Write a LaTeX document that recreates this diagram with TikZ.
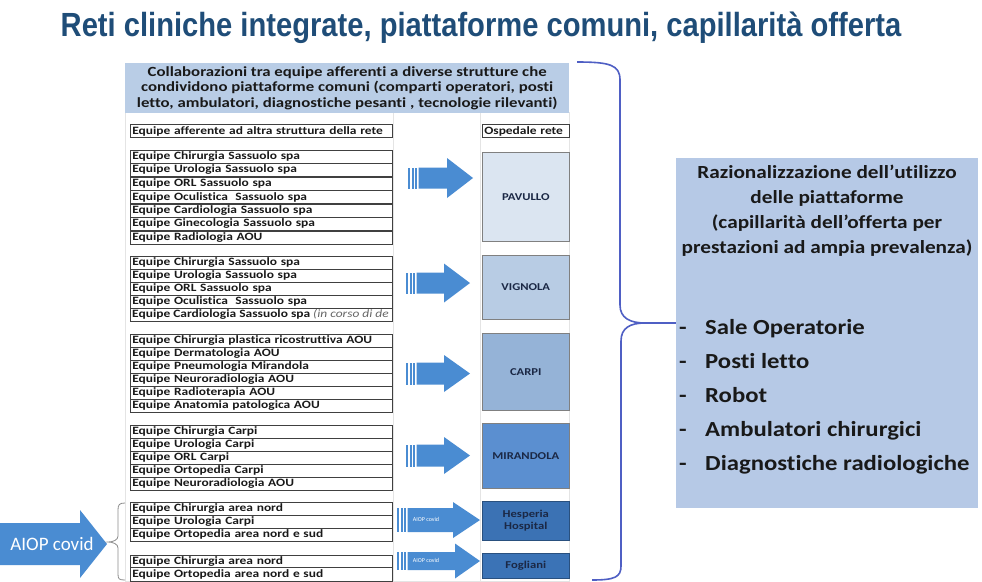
\documentclass[tikz,border=0pt]{standalone}
\usepackage{fontspec}
\setmainfont[Ligatures=NoCommon]{Carlito}
\newfontfamily\titlefont[FakeStretch=0.87]{Liberation Sans}
\newfontfamily\tabfont[FakeStretch=1.2,Ligatures=NoCommon]{Carlito}
\newfontfamily\rfont[FakeStretch=1.15,Ligatures=NoCommon]{Carlito}
\definecolor{titleblue}{HTML}{1F4D78}
\definecolor{hdrblue}{HTML}{B9CDE6}
\definecolor{boxblue}{HTML}{B6C9E6}
\definecolor{pavc}{HTML}{DBE5F1}
\definecolor{vigc}{HTML}{B8CCE4}
\definecolor{carc}{HTML}{95B3D7}
\definecolor{mirc}{HTML}{5B8FD0}
\definecolor{hesc}{HTML}{3B72B4}
\definecolor{fogc}{HTML}{3B73B6}
\definecolor{arrowblue}{HTML}{4A8CD2}
\definecolor{bracec}{HTML}{4F5FC4}
\definecolor{navy}{HTML}{1B2845}
\definecolor{gridc}{HTML}{E4E4E4}
\newcommand\blockarr[6]{%
  \fill[arrowblue] (#1,{#2-#5}) rectangle ({#1+2},{#2+#5});
  \fill[arrowblue] ({#1+3.5},{#2-#5}) rectangle ({#1+5.5},{#2+#5});
  \fill[arrowblue] ({#1+7},{#2-#5}) rectangle ({#1+9},{#2+#5});
  \fill[arrowblue] ({#1+10.5},{#2-#5}) -- (#3,{#2-#5}) -- (#3,{#2-#6}) -- (#4,#2)
     -- (#3,{#2+#6}) -- (#3,{#2+#5}) -- ({#1+10.5},{#2+#5}) -- cycle;}
\tikzset{
  rowbox/.style={draw=black!75, line width=0.6pt, fill=white, anchor=north west,
    minimum width=262pt, minimum height=13.4pt, inner xsep=2pt, inner ysep=0pt,
    text width=258pt, align=left, text=black!90,
    font=\tabfont\bfseries\fontsize{11.2}{12}\selectfont},
  rowtext/.style={anchor=west, inner xsep=2pt, inner ysep=0pt, text=black!90,
    font=\tabfont\bfseries\fontsize{11.2}{12}\selectfont},
  hosp/.style={draw=black!50, line width=0.6pt, anchor=north west, minimum width=87pt,
    inner sep=0pt, align=center, text=navy, font=\tabfont\bfseries\fontsize{10.5}{12.5}\selectfont},
  listitem/.style={anchor=base west, inner sep=0pt, text=black!90, font=\rfont\bfseries\fontsize{21.5}{24}\selectfont},
}
\begin{document}
\begin{tikzpicture}[x=1pt,y=-1pt]
\useasboundingbox (0,0) rectangle (982,581);
\fill[white] (0,0) rectangle (982,581);
% title
\node[font=\titlefont\bfseries\fontsize{33.5}{38}\selectfont, text=titleblue] (title) at (481,28)
  {Reti cliniche integrate, piattaforme comuni, capillarità offerta};
% faint grid of the table
\draw[gridc, line width=0.6pt] (125,112) rectangle (569,581);
\draw[gridc, line width=0.6pt] (393,112) -- (393,581);
\draw[gridc, line width=0.6pt] (480,112) -- (480,581);
% header box
\node[fill=hdrblue, anchor=north west, minimum width=444pt, minimum height=50pt, inner sep=0pt] (hdr) at (125,63) {};
\node[align=center, text=black!90, font=\tabfont\bfseries\fontsize{14}{15.6}\selectfont] (hdrtext) at (hdr.center)
  {Collaborazioni tra equipe afferenti a diverse strutture che\\
   condividono piattaforme comuni (comparti operatori, posti\\
   letto, ambulatori, diagnostiche pesanti , tecnologie rilevanti)};
% column headers
\node[rowbox] (colA) at (130,124) {Equipe afferente ad altra struttura della rete};
\node[rowbox, minimum width=87pt, text width=83pt] (colB) at (482,124) {Ospedale rete};
% group 1
\foreach \t [count=\i] in {Equipe Chirurgia Sassuolo spa, Equipe Urologia Sassuolo spa,
  Equipe ORL Sassuolo spa, Equipe Oculistica\ \ Sassuolo spa, Equipe Cardiologia Sassuolo spa,
  Equipe Ginecologia Sassuolo spa, Equipe Radiologia AOU}
  \node[rowbox] (ga\i) at (130,{149.5+(\i-1)*13.5}) {\t};
% group 2
\foreach \t [count=\i] in {Equipe Chirurgia Sassuolo spa, Equipe Urologia Sassuolo spa,
  Equipe ORL Sassuolo spa, Equipe Oculistica\ \ Sassuolo spa, {}}
  \node[rowbox] (gb\i) at (130,{255.5+(\i-1)*13}) {\t};
\begin{scope}
  \clip (gb5.north west) rectangle (gb5.south east);
  \node[rowtext] (gb5t) at (gb5.west) {Equipe Cardiologia Sassuolo spa \textcolor{black!60}{\mdseries\itshape (in corso di de}};
\end{scope}
% group 3
\foreach \t [count=\i] in {Equipe Chirurgia plastica ricostruttiva AOU, Equipe Dermatologia AOU,
  Equipe Pneumologia Mirandola, Equipe Neuroradiologia AOU, Equipe Radioterapia AOU,
  Equipe Anatomia patologica AOU}
  \node[rowbox] (gc\i) at (130,{333.5+(\i-1)*13.1}) {\t};
% group 4
\foreach \t [count=\i] in {Equipe Chirurgia Carpi, Equipe Urologia Carpi, Equipe ORL Carpi,
  Equipe Ortopedia Carpi, Equipe Neuroradiologia AOU}
  \node[rowbox] (gd\i) at (130,{424.5+(\i-1)*13.1}) {\t};
% group 5
\foreach \t [count=\i] in {Equipe Chirurgia area nord, Equipe Urologia Carpi, Equipe Ortopedia area nord e sud}
  \node[rowbox] (ge\i) at (130,{501.5+(\i-1)*13.2}) {\t};
% group 6
\foreach \t [count=\i] in {Equipe Chirurgia area nord, Equipe Ortopedia area nord e sud}
  \node[rowbox] (gf\i) at (130,{554.5+(\i-1)*12.8}) {\t};
% hospitals
\node[hosp, fill=pavc, minimum height=89pt] (pav) at (482,152) {PAVULLO};
\node[hosp, fill=vigc, minimum height=64pt] (vig) at (482,255) {VIGNOLA};
\node[hosp, fill=carc, minimum height=77pt] (car) at (482,333) {CARPI};
\node[hosp, fill=mirc, minimum height=65pt] (mir) at (482,423) {MIRANDOLA};
\node[hosp, fill=hesc, draw=hesc!70!black, minimum height=39pt, text=navy] (hes) at (482,501) {Hesperia\\Hospital};
\node[hosp, fill=fogc, draw=fogc!70!black, minimum height=25pt, text=navy] (fog) at (482,553) {Fogliani};
% block arrows
\blockarr{408}{178}{447}{473}{10.5}{20}
\blockarr{406}{283}{444}{470}{10.5}{19.5}
\blockarr{406}{373.5}{444}{470}{11}{18.5}
\blockarr{406}{455.5}{444}{470}{11}{18.5}
\blockarr{397}{520}{453}{480}{12}{18}
\blockarr{397}{561}{455}{480}{9}{17.5}
\node[text=white, font=\fontsize{6}{7}\selectfont] (aiop1) at (426,519) {AIOP covid};
\node[text=white, font=\fontsize{6}{7}\selectfont] (aiop2) at (426,560) {AIOP covid};
% big left arrow
\fill[arrowblue] (0,523) -- (80,523) -- (80,510) -- (107,544) -- (80,578) -- (80,565) -- (0,565) -- cycle;
\node[text=white, font=\fontsize{19}{22}\selectfont] (aiopbig) at (52,544) {AIOP covid};
% left brace
\draw[black!45, line width=0.8pt] (125,503) .. controls (119,503) and (118,505) .. (118,510)
  -- (118,536) .. controls (118,540) and (113,542) .. (108,542)
  .. controls (113,542) and (118,544) .. (118,548)
  -- (118,574) .. controls (118,579) and (119,580) .. (125,580);
% right brace
\coordinate (btop) at (577,62);
\coordinate (btip) at (677,323);
\draw[bracec, line width=1.6pt] (btop) .. controls (610,62) and (620,65) .. (620,80)
  -- (620,305) .. controls (620,318) and (630,323) .. (645,323)
  .. controls (630,323) and (621,328) .. (621,341)
  -- (621,566) .. controls (621,577) and (615,580) .. (592,580);
\draw[bracec, line width=1.6pt] (645,323) -- (btip);
% right box
\node[fill=boxblue, anchor=north west, minimum width=302pt, minimum height=350pt, inner sep=0pt] (rbox) at (676,158) {};
\node[align=center, text=black!90, font=\rfont\bfseries\fontsize{18.5}{25}\selectfont] (rtitle) at (827,211)
  {Razionalizzazione dell’utilizzo\\ delle piattaforme\\ (capillarità dell’offerta per\\ prestazioni ad ampia prevalenza)};
\foreach \t [count=\i] in {Sale Operatorie, Posti letto, Robot, Ambulatori chirurgici, Diagnostiche radiologiche} {
  \node[listitem] (dash\i) at (679,{334+(\i-1)*34}) {-};
  \node[listitem] (item\i) at (705,{334+(\i-1)*34}) {\t};
}
\end{tikzpicture}
\end{document}
